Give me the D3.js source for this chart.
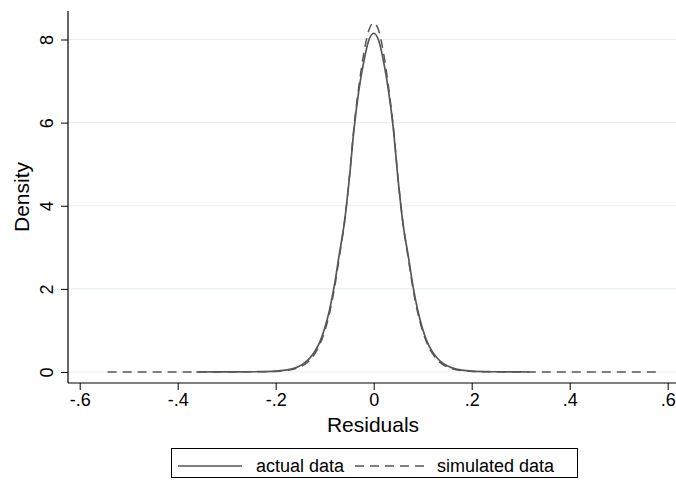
<!DOCTYPE html>
<html>
<head>
<meta charset="utf-8">
<script src="https://cdn.jsdelivr.net/npm/d3@7"></script>
<style>
  html, body { margin: 0; padding: 0; background: #fff; }
  svg { display: block; font-family: "Liberation Sans", Arial, sans-serif; }
</style>
</head>
<body>
<svg id="chart" width="676" height="482"></svg>
<script>
// ---- data ----
const xTicks = [-0.6, -0.4, -0.2, 0, 0.2, 0.4, 0.6];
const xTickLabels = ["-.6", "-.4", "-.2", "0", ".2", ".4", ".6"];
const yTicks = [0, 2, 4, 6, 8];
const yTickLabels = ["0", "2", "4", "6", "8"];

// actual data kernel density
const actualX = [-0.362, -0.32, -0.28, -0.24, -0.20, -0.18, -0.16, -0.15, -0.14, -0.13, -0.12, -0.11, -0.10, -0.09, -0.08, -0.07, -0.06, -0.05, -0.04, -0.03, -0.02, -0.01, 0,
  0.01, 0.02, 0.03, 0.04, 0.05, 0.06, 0.07, 0.08, 0.09, 0.10, 0.11, 0.12, 0.13, 0.14, 0.15, 0.16, 0.18, 0.20, 0.24, 0.28, 0.318];
const actualY = [0.0, 0.001, 0.002, 0.006, 0.02, 0.045, 0.10, 0.15, 0.23, 0.34, 0.50, 0.72, 1.05, 1.50, 2.10, 2.85, 3.58, 4.62, 5.86, 6.80, 7.48, 7.98, 8.15,
  7.98, 7.48, 6.78, 5.86, 4.60, 3.55, 2.83, 2.08, 1.48, 1.03, 0.70, 0.48, 0.33, 0.22, 0.15, 0.10, 0.045, 0.02, 0.006, 0.002, 0.0];

// simulated data kernel density
const simX = [-0.543, -0.40, -0.30, -0.24, -0.20, -0.18, -0.16, -0.15, -0.14, -0.13, -0.12, -0.11, -0.10, -0.09, -0.08, -0.07, -0.06, -0.05, -0.04, -0.03, -0.02, -0.01, 0,
  0.01, 0.02, 0.03, 0.04, 0.05, 0.06, 0.07, 0.08, 0.09, 0.10, 0.11, 0.12, 0.13, 0.14, 0.15, 0.16, 0.18, 0.20, 0.24, 0.30, 0.40, 0.587];
const simY = [0.0, 0.0, 0.0008, 0.004, 0.015, 0.035, 0.08, 0.12, 0.19, 0.29, 0.44, 0.66, 0.98, 1.42, 2.02, 2.78, 3.57, 4.64, 5.92, 6.90, 7.68, 8.22, 8.40,
  8.22, 7.68, 6.88, 5.90, 4.62, 3.55, 2.78, 2.02, 1.42, 0.98, 0.66, 0.44, 0.29, 0.19, 0.12, 0.08, 0.035, 0.015, 0.004, 0.0008, 0.0, 0.0];

const seriesNames = ["actual data", "simulated data"];

// ---- drawing ----
const svg = d3.select("#chart");
const lineColor = "#575757";
const gridColor = "#e6eff1";

const x = d3.scaleLinear().domain([-0.6, 0.6]).range([79.7, 667.7]);
const y = d3.scaleLinear().domain([0, 8]).range([372, 39.5]);

const plotLeft = 68, plotRight = 676, plotTop = 11, plotBottom = 383;

// gridlines
svg.append("g").selectAll("line").data(yTicks).join("line")
  .attr("x1", plotLeft + 1).attr("x2", plotRight)
  .attr("y1", d => y(d)).attr("y2", d => y(d))
  .attr("stroke", gridColor).attr("stroke-width", 1.2);

// curves
const lineGen = (xs, ys) => d3.line().x((d, i) => x(xs[i])).y((d, i) => y(ys[i])).curve(d3.curveMonotoneX)(ys);

svg.append("path").attr("d", lineGen(simX, simY))
  .attr("fill", "none").attr("stroke", lineColor).attr("stroke-width", 1.5)
  .attr("stroke-dasharray", "9,6");

svg.append("path").attr("d", lineGen(actualX, actualY))
  .attr("fill", "none").attr("stroke", lineColor).attr("stroke-width", 1.7);

// x axis
const xAxis = d3.axisBottom(x).tickValues(xTicks).tickSize(7).tickPadding(3)
  .tickFormat((d, i) => xTickLabels[i]);
const gx = svg.append("g").attr("transform", `translate(0,${plotBottom})`).call(xAxis);
gx.select(".domain").remove();
gx.selectAll(".tick line").attr("stroke", "#000").attr("stroke-width", 1);
gx.selectAll(".tick text").attr("font-size", 18).attr("fill", "#000")
  .attr("font-family", "Liberation Sans, Arial, sans-serif");
svg.append("line").attr("x1", plotLeft).attr("x2", plotRight)
  .attr("y1", plotBottom).attr("y2", plotBottom).attr("stroke", "#000").attr("stroke-width", 1.2);

// y axis
const yAxis = d3.axisLeft(y).tickValues(yTicks).tickSize(7).tickPadding(6)
  .tickFormat((d, i) => yTickLabels[i]);
const gy = svg.append("g").attr("transform", `translate(${plotLeft},0)`).call(yAxis);
gy.select(".domain").remove();
gy.selectAll(".tick line").attr("stroke", "#000").attr("stroke-width", 1);
gy.selectAll(".tick text")
  .attr("font-size", 18).attr("fill", "#000")
  .attr("font-family", "Liberation Sans, Arial, sans-serif")
  .attr("x", null).attr("dy", null)
  .attr("text-anchor", "middle")
  .attr("transform", "translate(-15,0) rotate(-90)")
  .attr("y", 0).attr("dy", "0");
svg.append("line").attr("x1", plotLeft).attr("x2", plotLeft)
  .attr("y1", plotTop).attr("y2", plotBottom).attr("stroke", "#000").attr("stroke-width", 1.2);

// axis titles
svg.append("text").attr("x", 373).attr("y", 432).attr("text-anchor", "middle")
  .attr("font-size", 21).attr("fill", "#000").text("Residuals");
svg.append("text").attr("transform", "translate(29,197) rotate(-90)")
  .attr("text-anchor", "middle").attr("font-size", 21).attr("fill", "#000").text("Density");

// legend
const lg = svg.append("g");
lg.append("rect").attr("x", 171.5).attr("y", 448.5).attr("width", 406).attr("height", 29)
  .attr("fill", "#fff").attr("stroke", "#000").attr("stroke-width", 1);
lg.append("line").attr("x1", 178).attr("x2", 242).attr("y1", 466).attr("y2", 466)
  .attr("stroke", lineColor).attr("stroke-width", 1.5);
lg.append("text").attr("x", 256).attr("y", 472).attr("font-size", 18).attr("fill", "#000").text(seriesNames[0]);
lg.append("line").attr("x1", 355).attr("x2", 427).attr("y1", 466).attr("y2", 466)
  .attr("stroke", lineColor).attr("stroke-width", 1.5).attr("stroke-dasharray", "9,6");
lg.append("text").attr("x", 437).attr("y", 472).attr("font-size", 18).attr("fill", "#000").text(seriesNames[1]);
</script>
</body>
</html>
